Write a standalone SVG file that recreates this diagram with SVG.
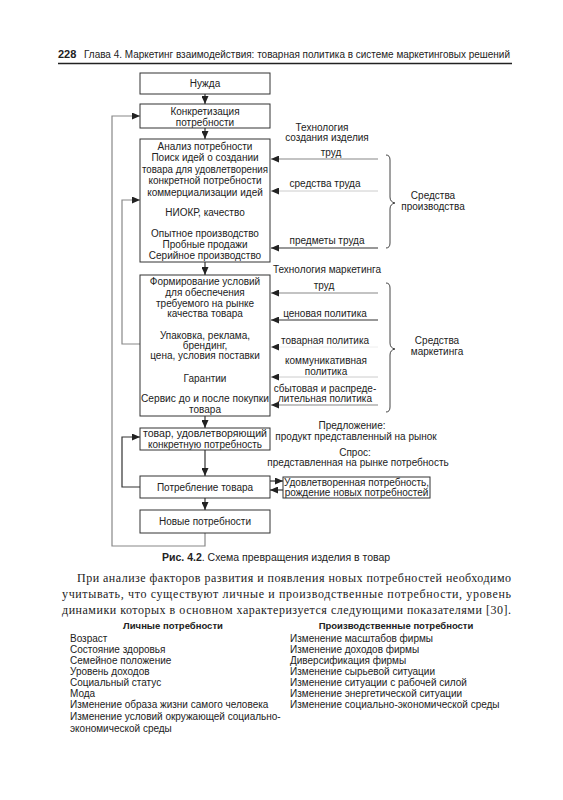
<svg xmlns="http://www.w3.org/2000/svg" width="563" height="800" viewBox="0 0 563 800">
<style>
text{font-family:"Liberation Sans","DejaVu Sans",sans-serif;fill:#222;font-size:10px}
.c{text-anchor:middle}
.b{fill:#fff;stroke:#333;stroke-width:1}
.ln{fill:none;stroke:#333;stroke-width:1.2}
.g{fill:none;stroke:#888;stroke-width:1.2}
.lg{fill:none;stroke:#ccc;stroke-width:1}
.br{fill:none;stroke:#444;stroke-width:1}
.serif{font-family:"Liberation Serif","DejaVu Serif",serif;font-size:12px}
</style>
<defs>
<marker id="ah" markerUnits="userSpaceOnUse" markerWidth="8" markerHeight="7" refX="8" refY="3.5" orient="auto">
<path d="M0,0 L8,3.5 L0,7 z" fill="#222"/>
</marker>
</defs>
<rect width="563" height="800" fill="#fff"/>

<g id="header">
<text x="58" y="58" style="font-weight:bold;font-size:11px">228</text>
<text x="84" y="58" style="font-size:10.5px" textLength="426" lengthAdjust="spacingAndGlyphs">Глава 4. Маркетинг взаимодействия: товарная политика в системе маркетинговых решений</text>
<line x1="58" y1="63.5" x2="512" y2="63.5" stroke="#222" stroke-width="1.5"/>
</g>

<g id="connectors">
<line class="ln" x1="205" y1="94" x2="205" y2="104" marker-end="url(#ah)"/>
<line class="ln" x1="205" y1="128" x2="205" y2="139" marker-end="url(#ah)"/>
<line class="ln" x1="205" y1="262" x2="205" y2="275" marker-end="url(#ah)"/>
<line class="ln" x1="205" y1="416" x2="205" y2="428" marker-end="url(#ah)"/>
<line class="ln" x1="205" y1="450" x2="205" y2="476" marker-end="url(#ah)"/>
<line class="ln" x1="205" y1="498" x2="205" y2="510" marker-end="url(#ah)"/>
<polyline class="g" points="205,533 205,546 112,546 112,116 140,116" marker-end="url(#ah)"/>
<polyline class="g" points="140,344 122,344 122,200 140,200" marker-end="url(#ah)"/>
<polyline class="ln" points="140,487 122,487 122,437 140,437" marker-end="url(#ah)"/>
<line class="ln" x1="270" y1="481" x2="283" y2="481" marker-end="url(#ah)"/>
<line class="ln" x1="283" y1="490" x2="270" y2="490" marker-end="url(#ah)"/>
<line class="g" x1="378" y1="159" x2="271" y2="159" marker-end="url(#ah)"/>
<line class="lg" x1="378" y1="191" x2="271" y2="191" marker-end="url(#ah)"/>
<line class="ln" x1="378" y1="248" x2="271" y2="248" marker-end="url(#ah)"/>
<line class="g" x1="378" y1="293" x2="271" y2="293" marker-end="url(#ah)"/>
<line class="ln" x1="378" y1="320" x2="271" y2="320" marker-end="url(#ah)"/>
<line stroke="#eee" stroke-width="1" x1="378" y1="347" x2="271" y2="347" marker-end="url(#ah)"/>
<line class="lg" x1="378" y1="377" x2="271" y2="377" marker-end="url(#ah)"/>
<line class="g" x1="378" y1="405" x2="271" y2="405" marker-end="url(#ah)"/>
</g>

<g id="braces">
<path class="br" d="M386,155 Q390,155 390,160 L390,197 Q390,202 395,203 Q390,204 390,209 L390,243 Q390,248 386,248"/>
<path class="br" d="M386,283 Q390,283 390,288 L390,343 Q390,348 395,349 Q390,350 390,355 L390,407 Q390,412 386,412"/>
</g>

<g id="n1"><rect class="b" x="140" y="73" width="130" height="21"/><text class="c" x="205" y="87">Нужда</text></g>
<g id="n2"><rect class="b" x="140" y="104" width="130" height="24"/><text class="c" x="205" y="114.5">Конкретизация</text><text class="c" x="205" y="125.5">потребности</text></g>
<g id="n3"><rect class="b" x="140" y="139" width="130" height="123"/>
<text class="c" x="205" y="149.5">Анализ потребности</text>
<text class="c" x="205" y="161">Поиск идей о создании</text>
<text class="c" x="205" y="172.5" textLength="126" lengthAdjust="spacingAndGlyphs">товара для удовлетворения</text>
<text class="c" x="205" y="184">конкретной потребности</text>
<text class="c" x="205" y="195.5">коммерциализации идей</text>
<text class="c" x="205" y="215.5">НИОКР, качество</text>
<text class="c" x="205" y="236.5">Опытное производство</text>
<text class="c" x="205" y="247.5">Пробные продажи</text>
<text class="c" x="205" y="258.5">Серийное производство</text>
</g>
<g id="n4"><rect class="b" x="140" y="275" width="130" height="141"/>
<text class="c" x="205" y="284.5">Формирование условий</text>
<text class="c" x="205" y="295.5">для обеспечения</text>
<text class="c" x="205" y="306.5">требуемого на рынке</text>
<text class="c" x="205" y="317">качества товара</text>
<text class="c" x="205" y="338.5">Упаковка, реклама,</text>
<text class="c" x="205" y="348.5">брендинг,</text>
<text class="c" x="205" y="358.5">цена, условия поставки</text>
<text class="c" x="205" y="381.5">Гарантии</text>
<text class="c" x="205" y="401.5" textLength="128" lengthAdjust="spacingAndGlyphs">Сервис до и после покупки</text>
<text class="c" x="205" y="413">товара</text>
</g>
<g id="n5"><rect class="b" x="140" y="428" width="130" height="22"/>
<text class="c" x="205" y="436.5" textLength="124" lengthAdjust="spacingAndGlyphs">товар, удовлетворяющий</text>
<text class="c" x="205" y="447.5">конкретную потребность</text>
</g>
<g id="n6"><rect class="b" x="140" y="476" width="130" height="22"/><text class="c" x="205" y="490.5">Потребление товара</text></g>
<g id="n7"><rect class="b" x="283" y="477" width="147" height="21"/>
<text class="c" x="356.5" y="485.5">Удовлетворенная потребность,</text>
<text class="c" x="356.5" y="496">рождение новых потребностей</text>
</g>
<g id="n8"><rect class="b" x="140" y="510" width="130" height="23"/><text class="c" x="205" y="525">Новые потребности</text></g>

<g id="labels">
<text class="c" x="322" y="130.5">Технология</text>
<text class="c" x="327" y="141">создания изделия</text>
<text class="c" x="331" y="156">труд</text>
<text class="c" x="325" y="187">средства труда</text>
<text class="c" x="327" y="244">предметы труда</text>
<text class="c" x="433" y="198.5">Средства</text>
<text class="c" x="433" y="209.5">производства</text>
<text class="c" x="327" y="272.5">Технология маркетинга</text>
<text class="c" x="324" y="289">труд</text>
<text class="c" x="325" y="316.5">ценовая политика</text>
<text class="c" x="325" y="343.5">товарная политика</text>
<text class="c" x="326" y="363.5">коммуникативная</text>
<text class="c" x="326" y="374.5">политика</text>
<text class="c" x="325" y="391.5">сбытовая и распреде-</text>
<text class="c" x="325" y="402">лительная политика</text>
<text class="c" x="437" y="343.5">Средства</text>
<text class="c" x="437" y="354.5">маркетинга</text>
<text class="c" x="352" y="428.5">Предложение:</text>
<text class="c" x="356" y="439.5">продукт представленный на рынок</text>
<text class="c" x="355" y="455.5">Спрос:</text>
<text class="c" x="358" y="466">представленная на рынке потребность</text>
</g>

<g id="caption">
<text x="162" y="561" style="font-size:10.5px"><tspan font-weight="bold">Рис. 4.2</tspan>. Схема превращения изделия в товар</text>
</g>

<g id="body">
<text class="serif" x="77" y="582" textLength="434" lengthAdjust="spacing">При анализе факторов развития и появления новых потребностей необходимо</text>
<text class="serif" x="62" y="598" textLength="449" lengthAdjust="spacing">учитывать, что существуют личные и производственные потребности, уровень</text>
<text class="serif" x="62" y="614" textLength="449" lengthAdjust="spacing">динамики которых в основном характеризуется следующими показателями [30].</text>
</g>

<g id="lists">
<text class="c" x="173" y="629" style="font-weight:bold;font-size:9.5px">Личные потребности</text>
<text class="c" x="396" y="629" style="font-weight:bold;font-size:9.5px">Производственные потребности</text>
<text x="70" y="641.5">Возраст</text>
<text x="70" y="652.6">Состояние здоровья</text>
<text x="70" y="663.7">Семейное положение</text>
<text x="70" y="674.8">Уровень доходов</text>
<text x="70" y="685.9">Социальный статус</text>
<text x="70" y="697">Мода</text>
<text x="70" y="708.1">Изменение образа жизни самого человека</text>
<text x="70" y="719.8">Изменение условий окружающей социально-</text>
<text x="70" y="731.5">экономической среды</text>
<text x="290" y="641.5">Изменение масштабов фирмы</text>
<text x="290" y="652.6">Изменение доходов фирмы</text>
<text x="290" y="663.7">Диверсификация фирмы</text>
<text x="290" y="674.8">Изменение сырьевой ситуации</text>
<text x="290" y="685.9">Изменение ситуации с рабочей силой</text>
<text x="290" y="697">Изменение энергетической ситуации</text>
<text x="290" y="708.1">Изменение социально-экономической среды</text>
</g>
</svg>
